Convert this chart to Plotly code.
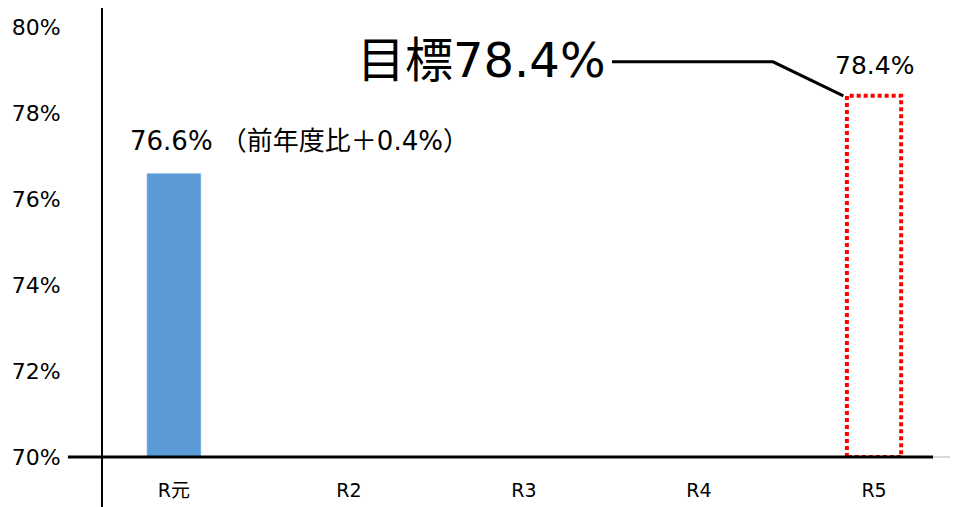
import plotly.graph_objects as go

# データ
categories = ["R元", "R2", "R3", "R4", "R5"]
actual = [76.6, None, None, None, None]
target_idx = 4
target_value = 78.4
prev_diff = 0.4
y_ticks = [70, 72, 74, 76, 78, 80]

bar_w = 0.31
font_main = "DejaVu Sans, Noto Sans CJK JP, sans-serif"
x_idx = list(range(len(categories)))

fig = go.Figure()

# 実績（R元）
fig.add_trace(go.Bar(
    x=x_idx, y=[v - 70 if v is not None else None for v in actual], base=70,
    width=bar_w, marker_color="#5b9bd5", hoverinfo="skip",
))

# 目標（点線の枠）
x0, x1 = target_idx - bar_w / 2, target_idx + bar_w / 2
fig.add_trace(go.Scatter(
    x=[x0, x0, x1, x1, x0], y=[70, target_value, target_value, 70, 70],
    mode="lines", line=dict(color="#ff0000", width=4, dash="4px,3px"),
    hoverinfo="skip",
))

# 目標への引き出し線
fig.add_trace(go.Scatter(
    x=[2.503, 3.423, x0 - 0.02], y=[79.19, 79.19, target_value],
    mode="lines", line=dict(color="black", width=3), hoverinfo="skip",
))

fig.add_annotation(
    x=0, y=actual[0], xref="x", yref="y",
    text=f"{actual[0]:.1f}% （前年度比＋{prev_diff:.1f}%）",
    showarrow=False, xanchor="left", yanchor="bottom", xshift=-46, yshift=15,
    font=dict(size=26, color="black", family=font_main),
)
fig.add_annotation(
    x=target_idx, y=target_value, xref="x", yref="y",
    text=f"{target_value:.1f}%", showarrow=False, yanchor="bottom", yshift=14,
    font=dict(size=25, color="black", family=font_main),
)
fig.add_annotation(
    x=1.757, y=79.23, xref="x", yref="y",
    text=f"目標{target_value:.1f}%", showarrow=False,
    font=dict(size=48, color="black", family=font_main),
)

# 軸線
fig.add_shape(type="line", xref="paper", yref="paper", x0=-0.041, x1=1, y0=0, y1=0,
              line=dict(color="black", width=3))
fig.add_shape(type="line", xref="paper", yref="paper", x0=1, x1=1.03, y0=0, y1=0,
              line=dict(color="#d9d9d9", width=2))
fig.add_shape(type="line", xref="paper", yref="paper", x0=0, x1=0, y0=-0.116, y1=1.044,
              line=dict(color="black", width=2))

fig.update_layout(
    width=958, height=507,
    margin=dict(l=94, r=33, t=19, b=58, autoexpand=False),
    plot_bgcolor="white", paper_bgcolor="white",
    showlegend=False,
    font=dict(family=font_main, color="black", size=20),
)
fig.update_xaxes(
    range=[-0.411, 4.337], tickvals=x_idx, ticktext=categories,
    showgrid=False, zeroline=False, showline=False, automargin=False,
    ticks="outside", ticklen=16, tickcolor="rgba(0,0,0,0)",
    tickfont=dict(size=19),
)
fig.update_yaxes(
    range=[70, 80], tickvals=y_ticks, ticktext=[f"{t}%" for t in y_ticks],
    showgrid=False, zeroline=False, showline=False, automargin=False,
    ticks="outside", ticklen=36, tickcolor="rgba(0,0,0,0)",
    tickfont=dict(size=22),
)

fig.write_html("out.html")
